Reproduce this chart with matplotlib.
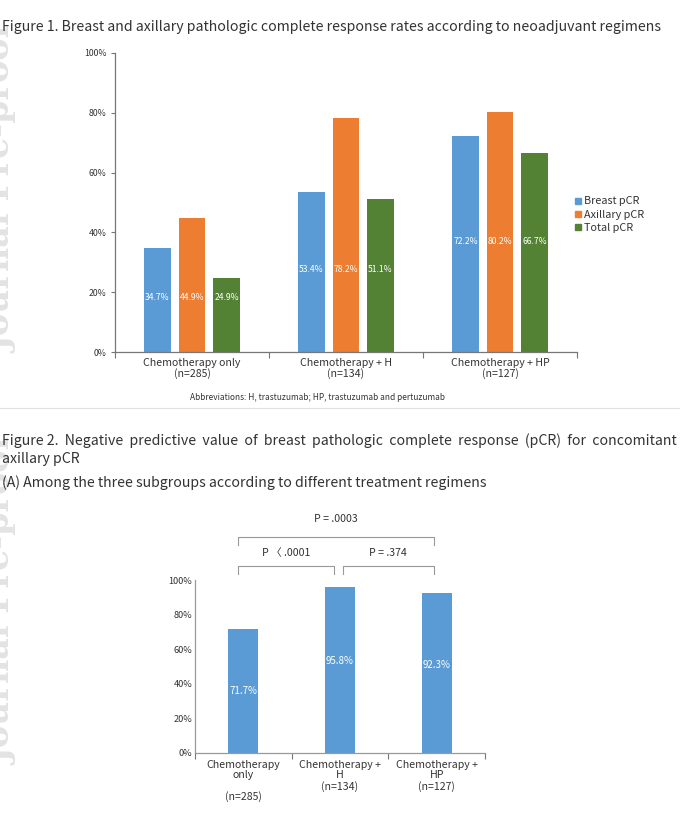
import numpy as np
import matplotlib
matplotlib.use("Agg")
from matplotlib import pyplot as plt
from matplotlib.lines import Line2D

plt.rcParams['font.family'] = ['Noto Sans CJK KR', 'DejaVu Sans']

# figure 1 data
groups1 = ['Chemotherapy only\n(n=285)', 'Chemotherapy + H\n(n=134)', 'Chemotherapy + HP\n(n=127)']
series1 = ['Breast pCR', 'Axillary pCR', 'Total pCR']
breast = [34.7, 53.4, 72.2]
axillary = [44.9, 78.2, 80.2]
total = [24.9, 51.1, 66.7]

# figure 2 data
groups2 = ['Chemotherapy\nonly\n\n(n=285)', 'Chemotherapy +\nH\n(n=134)', 'Chemotherapy +\nHP\n(n=127)']
npv = [71.7, 95.8, 92.3]
pvals = ['P = .0003', 'P 〈 .0001', 'P = .374']

yticks = [0, 20, 40, 60, 80, 100]
ytick_labels = ['0%', '20%', '40%', '60%', '80%', '100%']

colors = ['#5B9BD5', '#ED7D31', '#548235']
txt = '#333333'
spine = '#777777'

fig = plt.figure(figsize=(6.8, 8.23), dpi=100)

# faint watermark on left edge, mostly cut off like the reference
for yy in [0.77, 0.27]:
    fig.text(-0.022, yy, 'Journal Pre-proof', rotation=90, fontsize=24, color='#e3e3e3',
             ha='left', va='center', family='DejaVu Serif', fontweight='bold', zorder=0)

fig.text(0.003, 1 - 27 / 823, 'Figure 1. Breast and axillary pathologic complete response rates according to neoadjuvant regimens',
         fontsize=10.2, color=txt, va='center', ha='left')

# ---- figure 1 chart
ax1 = fig.add_axes([115 / 680, 1 - 352 / 823, 462 / 680, 299 / 823])
x = np.arange(3)
w = 0.175
off = 0.224
for i, vals in enumerate([breast, axillary, total]):
    ax1.bar(x + (i - 1) * off, vals, w, color=colors[i], label=series1[i], zorder=2)
    for j, v in enumerate(vals):
        ax1.text(x[j] + (i - 1) * off, breast[j] / 2 + 1, '%.1f%%' % v, color='white',
                 fontsize=6.2, ha='center', va='center')
ax1.set_xlim(-0.5, 2.5)
ax1.set_ylim(0, 100)
ax1.set_yticks(yticks)
ax1.set_yticklabels(ytick_labels, fontsize=6.3, color=txt)
ax1.set_xticks([-0.5, 0.5, 1.5, 2.5])
ax1.set_xticklabels([])
ax1.set_xticks(x, minor=True)
ax1.set_xticklabels(groups1, minor=True, fontsize=7.6, color=txt, linespacing=1.1)
ax1.tick_params(axis='x', which='minor', length=0, pad=4)
ax1.tick_params(axis='x', which='major', length=4, color=spine)
ax1.tick_params(axis='y', length=3, color=spine, pad=3)
for s in ['top', 'right']:
    ax1.spines[s].set_visible(False)
for s in ['left', 'bottom']:
    ax1.spines[s].set_color(spine)
    ax1.spines[s].set_linewidth(0.9)

handles = [Line2D([], [], marker='s', linestyle='', color=c, markersize=5) for c in colors]
fig.legend(handles, series1, loc='upper left', bbox_to_anchor=(568 / 680, 1 - 192 / 823),
           frameon=False, fontsize=7.8, handletextpad=0.1, labelspacing=0.3,
           labelcolor=txt, handlelength=1.0, borderaxespad=0)

fig.text(318 / 680, 1 - 397 / 823, 'Abbreviations: H, trastuzumab; HP, trastuzumab and pertuzumab',
         fontsize=6.0, color=txt, ha='center', va='center')

fig.add_artist(Line2D([0, 1], [1 - 408 / 823, 1 - 408 / 823], color='#e2e2e2', linewidth=0.8))

# ---- figure 2 text
fig.text(0.003, 1 - 441 / 823, 'Figure 2.  Negative  predictive  value  of  breast  pathologic  complete  response  (pCR)  for  concomitant',
         fontsize=10.2, color=txt, va='center', ha='left')
fig.text(0.003, 1 - 459 / 823, 'axillary pCR', fontsize=10.2, color=txt, va='center', ha='left')
fig.text(0.003, 1 - 483 / 823, '(A) Among the three subgroups according to different treatment regimens',
         fontsize=10.2, color=txt, va='center', ha='left')

# ---- figure 2 chart
ax2 = fig.add_axes([195 / 680, 1 - 753 / 823, 290 / 680, 173 / 823])
x2 = np.arange(3)
ax2.bar(x2, npv, 0.31, color=colors[0], zorder=2)
for j, v in enumerate(npv):
    ax2.text(x2[j], v / 2 + (5 if v > 90 else 0), '%.1f%%' % v, color='white', fontsize=7.0,
             ha='center', va='center')
ax2.set_xlim(-0.5, 2.5)
ax2.set_ylim(0, 100)
ax2.set_yticks(yticks)
ax2.set_yticklabels(ytick_labels, fontsize=6.6, color=txt)
ax2.set_xticks([-0.5, 0.5, 1.5, 2.5])
ax2.set_xticklabels([])
ax2.set_xticks(x2, minor=True)
ax2.set_xticklabels(groups2, minor=True, fontsize=7.6, color=txt, linespacing=1.05, va='top')
ax2.tick_params(axis='x', which='minor', length=0, pad=5)
ax2.tick_params(axis='x', which='major', length=4, color=spine)
ax2.tick_params(axis='y', length=0, pad=2)
for s in ['top', 'right']:
    ax2.spines[s].set_visible(False)
for s in ['left', 'bottom']:
    ax2.spines[s].set_color('#999999')
    ax2.spines[s].set_linewidth(0.9)

# significance brackets, x taken from the bar positions of ax2
def bracket(xa, xb, ytop, ybot, label, ylab):
    fig.add_artist(Line2D([xa, xa, xb, xb], [ybot, ytop, ytop, ybot], color='#999999', linewidth=0.8))
    fig.text((xa + xb) / 2, ylab, label, fontsize=7.6, color=txt, ha='center', va='center')

def xfig(xd):
    return ax2.transData.transform((xd, 0))[0] / fig.bbox.width

bracket(xfig(-0.06), xfig(1.97), 1 - 537 / 823, 1 - 545 / 823, pvals[0], 1 - 519 / 823)
bracket(xfig(-0.06), xfig(0.94), 1 - 566 / 823, 1 - 574 / 823, pvals[1], 1 - 553 / 823)
bracket(xfig(1.03), xfig(1.97), 1 - 566 / 823, 1 - 574 / 823, pvals[2], 1 - 553 / 823)

fig.savefig('out.png', dpi=100)
